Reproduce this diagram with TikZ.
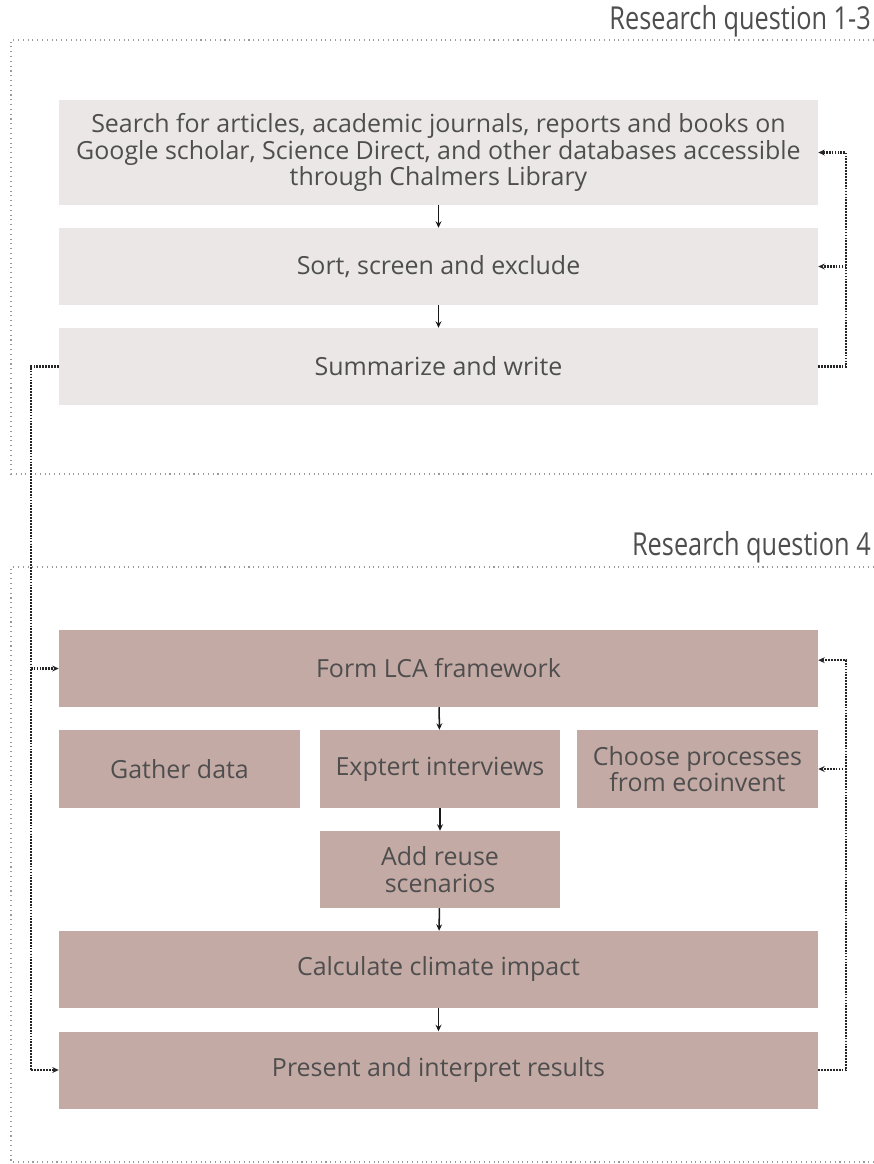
\documentclass[tikz,border=0pt]{standalone}
\usepackage{fontspec}
\setmainfont{Open Sans}
\newfontfamily\condfont{Open Sans}[FakeStretch=0.8]
\usepackage{xcolor}
\usepackage{tikz}
\usetikzlibrary{arrows.meta,positioning,calc}
\definecolor{LitGrey}{HTML}{EBE7E6}
\definecolor{LcaRose}{HTML}{C4AAA5}
\definecolor{InkGrey}{HTML}{4E4E4E}
\definecolor{FrameGrey}{HTML}{9A9A9A}
\newcommand{\boxfont}{\fontsize{21.3}{22.6}\selectfont}

\begin{document}
\begin{tikzpicture}[x=0.03cm, y=-0.03cm,
      box/.style={rectangle, draw=none, inner sep=0pt, minimum height=2.31cm,
                  align=center, font=\boxfont, text=InkGrey},
      litbox/.style={box, fill=LitGrey, minimum width=22.77cm},
      lcabox/.style={box, fill=LcaRose, minimum width=22.77cm},
      smallbox/.style={box, fill=LcaRose, minimum width=7.2cm, minimum height=2.34cm},
      arrow/.style={-{Stealth[length=5.5pt,width=5pt]}, line width=1.3pt, black!90},
      backarrow/.style={-{Stealth[length=5.5pt,width=5pt]}, line width=1.8pt,
                        black!85, dash pattern=on 1.5pt off 1pt},
      rqline/.style={line width=0.9pt, FrameGrey, dash pattern=on 0.9pt off 3.2pt},
      rqlabel/.style={anchor=south east, inner sep=0pt, text=InkGrey,
                      font=\condfont\fontsize{27}{30}\selectfont}
    ]
      \useasboundingbox (0,0) rectangle (874,1164);
      \draw[rqline] (874,40) -- (11,40) -- (11,474) -- (874,474);
      \node[rqlabel] (rq1) at (871,37) {Research question 1-3};
      \draw[rqline] (874,567) -- (11,567) -- (11,1162) -- (874,1162);
      \node[rqlabel] (rq4) at (871,563) {Research question 4};

      \node[litbox, minimum height=3.15cm] (search) at (438.5,152.5)
        {Search for articles, academic journals, reports and books on\\
         Google scholar, Science Direct, and other databases accessible\\
         through Chalmers Library};
      \node[litbox] (sort) at (438.5,266.5) {Sort, screen and exclude};
      \node[litbox] (write) at (438.5,366.5) {Summarize and write};

      \node[lcabox] (frame) at (438.5,668.5) {Form LCA framework};
      \node[smallbox, minimum width=7.23cm] (gather) at (179.5,769) {Gather data};
      \node[smallbox] (expert) at (440,769) {Exptert interviews};
      \node[smallbox, minimum width=7.23cm] (choose) at (697.5,769)
        {Choose processes\\from ecoinvent};
      \node[smallbox, minimum height=2.31cm] (reuse) at (440,869.5)
        {Add reuse\\scenarios};
      \node[lcabox] (climate) at (438.5,969.5) {Calculate climate impact};
      \node[lcabox] (present) at (438.5,1070) {Present and interpret results};

      \draw[arrow] (search) -- (sort);
      \draw[arrow] (sort) -- (write);
      \draw[arrow] (frame) -- (expert);
      \draw[arrow] (expert) -- (reuse);
      \draw[arrow] (reuse) -- (climate);
      \draw[arrow] (climate) -- (present);

      \draw[backarrow] (write.east) -- ++(28,0) coordinate (rq1turn) |- (search.east);
      \draw[backarrow] (rq1turn |- sort.east) -- (sort.east);
      \draw[backarrow] (write.west) -- ++(-28,0) coordinate (leftturn) |- (present.west);
      \draw[backarrow] (leftturn |- frame.west) -- (frame.west);
      \draw[backarrow] (present.east) -- ++(28,0) coordinate (rq4turn) |- ([yshift=0.25cm]frame.east);
      \draw[backarrow] (rq4turn |- choose.east) -- (choose.east);
    \end{tikzpicture}
\end{document}
